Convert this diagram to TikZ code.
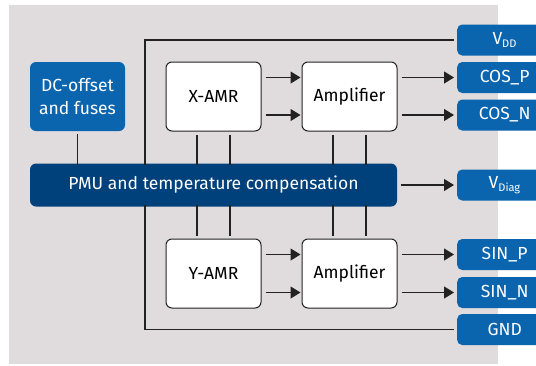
\documentclass[tikz,border=0pt]{standalone}
\usepackage{fontspec}
\setmainfont{Fira Sans}
\usetikzlibrary{arrows.meta}
\definecolor{panel}{HTML}{E0DCDD}
\definecolor{pinblue}{HTML}{0B64AE}
\definecolor{pmublue}{HTML}{00417B}
\definecolor{ink}{HTML}{222222}
\tikzset{
  blk/.style={draw=ink, line width=1pt, fill=white, rounded corners=6pt,
    minimum width=95pt, minimum height=69pt, inner sep=0pt, font=\fontsize{17.5}{21}\selectfont},
  pin/.style={fill=pinblue, rounded corners=5pt, text=white, anchor=west,
    minimum width=95pt, minimum height=31pt, inner sep=0pt,
    text width=79pt, align=center, font=\fontsize{17.5}{21}\selectfont},
  wire/.style={draw=ink, line width=1.2pt},
  sig/.style={wire, -{Triangle[length=10pt,width=12pt]}},
}
\newcommand{\subtxt}[1]{\textsubscript{\fontsize{11}{11}\selectfont #1}}
\begin{document}
\begin{tikzpicture}[x=1pt, y=-1pt]
  \useasboundingbox (0,0) rectangle (536,365);
  \begin{scope}
  \clip (0,0) rectangle (536,365);
  % grey panel
  \fill[panel] (9,5) rectangle (498,364);

  % blocks
  \node[blk] (xamr) at (213.5,96.5) {X-AMR};
  \node[blk] (ampx) at (349.5,96.5) {Amplifier};
  \node[blk] (yamr) at (213.5,273.5) {Y-AMR};
  \node[blk] (ampy) at (349.5,273.5) {Amplifier};
  \node[fill=pinblue, rounded corners=6pt, text=white, minimum width=95pt,
        minimum height=69pt, inner sep=0pt, align=center,
        font=\fontsize{17.5}{23.5}\selectfont] (dc) at (77.5,96.5) {DC-offset\\and fuses};
  \node[fill=pmublue, rounded corners=6pt, text=white, minimum width=367pt,
        minimum height=43pt, inner sep=0pt,
        font=\fontsize{17.5}{21}\selectfont] (pmu) at (213.5,185) {PMU and temperature compensation};

  % output pins
  \node[pin] (vdd)  at (457,40)  {V\subtxt{DD}};
  \node[pin] (cosp) at (457,77.5) {COS\_P};
  \node[pin] (cosn) at (457,115) {COS\_N};
  \node[pin] (vdiag) at (457,185) {V\subtxt{Diag}};
  \node[pin] (sinp) at (457,254.5) {SIN\_P};
  \node[pin] (sinn) at (457,292.5) {SIN\_N};
  \node[pin] (gnd)  at (457,329.5) {GND};

  % supply and ground rails
  \draw[wire] ([xshift=-3pt]vdd.west) -| ([xshift=-68.5pt,yshift=-2pt]pmu.north);
  \draw[wire] ([xshift=-3pt]gnd.west) -| ([xshift=-68.5pt,yshift=2pt]pmu.south);

  % connections to the PMU
  \draw[wire] ([yshift=-3pt]dc.south) -- ([yshift=-2pt]dc.south |- pmu.north);
  \foreach \b in {xamr, ampx} {
    \draw[wire] ([xshift=-16.5pt,yshift=-3pt]\b.south) -- ([xshift=-16.5pt,yshift=-2pt]\b.south |- pmu.north);
    \draw[wire] ([xshift=16.5pt,yshift=-3pt]\b.south) -- ([xshift=16.5pt,yshift=-2pt]\b.south |- pmu.north);
  }
  \foreach \b in {yamr, ampy} {
    \draw[wire] ([xshift=-16.5pt,yshift=3pt]\b.north) -- ([xshift=-16.5pt,yshift=2pt]\b.north |- pmu.south);
    \draw[wire] ([xshift=16.5pt,yshift=3pt]\b.north) -- ([xshift=16.5pt,yshift=2pt]\b.north |- pmu.south);
  }

  % signal paths
  \draw[sig] ([xshift=4pt]xamr.east |- cosp) -- ([xshift=-1pt]ampx.west |- cosp);
  \draw[sig] ([xshift=4pt]xamr.east |- cosn) -- ([xshift=-1pt]ampx.west |- cosn);
  \draw[sig] ([xshift=4pt]ampx.east |- cosp) -- ([xshift=-3pt]cosp.west);
  \draw[sig] ([xshift=4pt]ampx.east |- cosn) -- ([xshift=-3pt]cosn.west);
  \draw[sig] ([xshift=4pt]pmu.east) -- ([xshift=-3pt]vdiag.west);
  \draw[sig] ([xshift=4pt]yamr.east |- sinp) -- ([xshift=-1pt]ampy.west |- sinp);
  \draw[sig] ([xshift=4pt]yamr.east |- sinn) -- ([xshift=-1pt]ampy.west |- sinn);
  \draw[sig] ([xshift=4pt]ampy.east |- sinp) -- ([xshift=-3pt]sinp.west);
  \draw[sig] ([xshift=4pt]ampy.east |- sinn) -- ([xshift=-3pt]sinn.west);
  \end{scope}
\end{tikzpicture}
\end{document}
